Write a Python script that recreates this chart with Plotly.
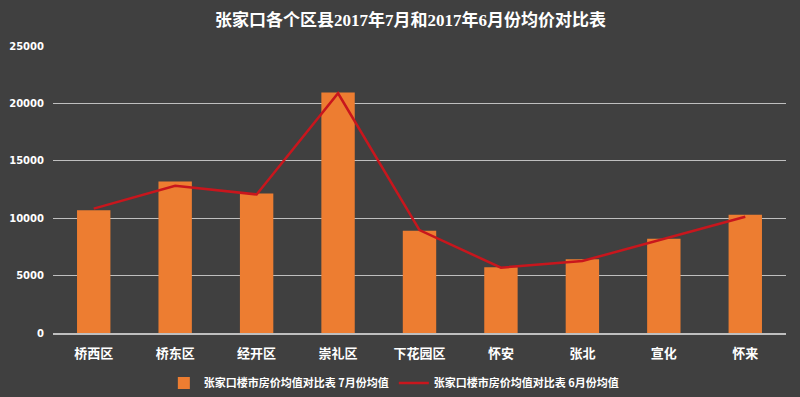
import plotly.graph_objects as go

categories = ["桥西区", "桥东区", "经开区", "崇礼区", "下花园区", "怀安", "张北", "宣化", "怀来"]
july_values = [10700, 13200, 12150, 20950, 8900, 5720, 6420, 8220, 10300]
june_values = [10830, 12820, 12070, 20880, 8970, 5690, 6270, 8170, 10130]
y_ticks = [0, 5000, 10000, 15000, 20000, 25000]
y_tick_labels = ["0", "5000", "10000", "15000", "20000", "25000"]

title_text = "张家口各个区县2017年7月和2017年6月份均价对比表"
july_name = "张家口楼市房价均值对比表 7月份均值"
june_name = "张家口楼市房价均值对比表 6月份均值"

fig = go.Figure()
fig.add_trace(go.Bar(
    x=categories, y=july_values, name=july_name,
    marker=dict(color="#ED7D31", line=dict(width=0)),
))
fig.add_trace(go.Scatter(
    x=categories, y=june_values, name=june_name, mode="lines",
    line=dict(color="#C8161D", width=2.5),
))

fig.update_layout(
    width=800, height=397,
    paper_bgcolor="#404040", plot_bgcolor="#404040",
    margin=dict(l=53, r=14, t=46, b=64, autoexpand=False),
    bargap=0.59,
    title=dict(text=title_text, x=0.513, xanchor="center", y=0.95, yanchor="middle",
               font=dict(family="Liberation Serif, Noto Sans CJK SC", size=17, color="#FFFFFF", weight="bold")),
    font=dict(family="Noto Sans CJK SC", color="#FFFFFF"),
    showlegend=True,
    legend=dict(orientation="h", x=0.465, xanchor="center", yref="container", y=0.035, yanchor="middle",
                font=dict(family="Noto Sans CJK SC", size=11, color="#FFFFFF", weight="bold"),
                bgcolor="rgba(0,0,0,0)", itemwidth=30, traceorder="normal"),
    xaxis=dict(showgrid=False, showline=True, linecolor="#BFBFBF", linewidth=2, automargin=False,
               ticks="", tickfont=dict(family="Noto Sans CJK SC", size=13, color="#FFFFFF", weight="bold"),
               ticklabelstandoff=7),
    yaxis=dict(range=[0, 25000], tickvals=y_ticks, ticktext=y_tick_labels, automargin=False,
               showgrid=True, gridcolor="#BFBFBF", gridwidth=1,
               zeroline=False, showline=False, ticks="", ticklabelstandoff=8,
               tickfont=dict(family="Verdana, DejaVu Sans", size=10, color="#FFFFFF", weight="bold")),
)

fig.write_html(
    "out.html",
    config={"displayModeBar": False},
    post_script="document.body.style.margin='0';document.body.style.overflow='hidden';document.body.style.background='#404040';",
)
